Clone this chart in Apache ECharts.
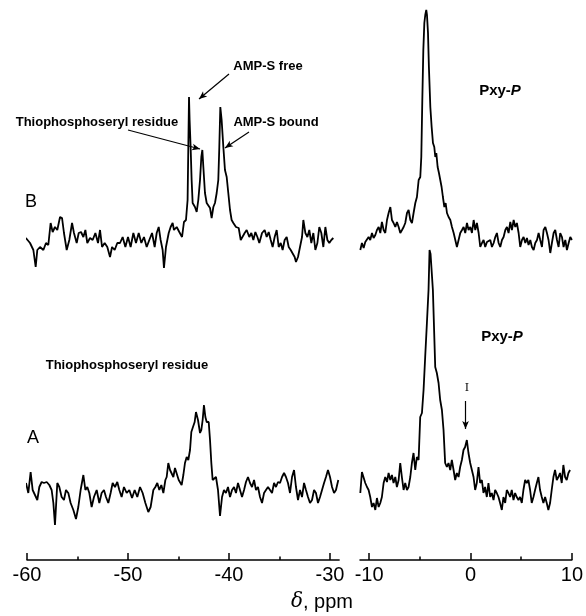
<!DOCTYPE html>
<html lang="en">
<head>
    <meta charset="UTF-8">
    <title>31P NMR spectra</title>
    <script src="https://cdn.jsdelivr.net/npm/echarts@6/dist/echarts.min.js"></script>
    <style>
        body { margin: 0; background: #fff; }
        #chart { width: 586px; height: 616px; }
    </style>
</head>
<body>
    <div id="chart"></div>
    <script>
        // spectrum B (top), left region: [ppm, intensity]
        const specBLeft = [
            [-60.30,3],[-60.03,1],[-59.70,-3],[-59.37,-10],[-59.14,-27],[-58.98,-10],[-58.71,-7],[-58.38,-10],
            [-58.12,-3],[-57.89,-5],[-57.66,17],[-57.46,8],[-57.23,13],[-57.00,10],[-56.73,23],[-56.53,22],
            [-56.34,7],[-56.07,-10],[-55.81,0],[-55.54,17],[-55.35,7],[-55.08,-3],[-54.88,7],[-54.65,8],
            [-54.42,3],[-54.22,10],[-54.03,-3],[-53.76,2],[-53.50,0],[-53.23,7],[-52.97,-3],[-52.77,10],
            [-52.57,-7],[-52.31,-3],[-52.05,-7],[-51.78,-17],[-51.58,-7],[-51.32,-10],[-51.06,-3],[-50.79,-3],
            [-50.53,3],[-50.26,-7],[-50.00,3],[-49.74,-7],[-49.47,7],[-49.21,-3],[-48.94,7],[-48.68,-3],
            [-48.42,3],[-48.15,-7],[-47.89,0],[-47.62,7],[-47.36,-7],[-47.16,7],[-46.96,13],[-46.77,0],
            [-46.57,-10],[-46.44,-28],[-46.24,-7],[-45.97,7],[-45.78,13],[-45.58,17],[-45.45,10],[-45.18,13],
            [-44.92,8],[-44.65,3],[-44.46,18],[-44.26,20],[-44.10,40],[-43.96,143],[-43.90,120],[-43.80,93],
            [-43.70,60],[-43.60,37],[-43.37,33],[-43.20,28],[-43.04,40],[-42.87,60],[-42.74,83],[-42.64,90],
            [-42.54,73],[-42.38,47],[-42.21,37],[-42.05,35],[-41.88,32],[-41.72,22],[-41.55,33],[-41.39,37],
            [-41.22,47],[-41.06,60],[-40.96,93],[-40.86,133],[-40.73,120],[-40.56,93],[-40.40,70],[-40.23,63],
            [-40.07,47],[-39.90,30],[-39.74,20],[-39.57,17],[-39.31,13],[-39.04,12],[-38.84,0],[-38.65,-2],
            [-38.45,7],[-38.25,10],[-37.99,3],[-37.79,7],[-37.59,0],[-37.39,8],[-37.19,3],[-37.00,-3],
            [-36.73,7],[-36.47,10],[-36.27,3],[-36.07,8],[-35.87,0],[-35.68,-7],[-35.48,3],[-35.28,10],
            [-35.08,-7],[-34.88,-3],[-34.69,-10],[-34.49,0],[-34.29,3],[-34.09,-7],[-33.89,-10],[-33.70,-8],
            [-33.50,-17],[-33.37,-22],[-33.17,-17],[-32.97,-7],[-32.77,3],[-32.64,20],[-32.44,7],[-32.24,3],
            [-32.05,10],[-31.85,-3],[-31.65,7],[-31.45,-10],[-31.25,-3],[-31.06,13],[-30.86,7],[-30.66,-7],
            [-30.46,13],[-30.26,0],[-30.07,-3],[-29.87,0],[-29.67,2]
        ];

        // spectrum B (top), right region
        const specBRight = [
            [-10.87,-10],[-10.71,-3],[-10.54,-8],[-10.38,-2],[-10.21,0],[-10.05,3],[-9.89,0],[-9.72,7],
            [-9.56,2],[-9.39,5],[-9.23,10],[-9.06,13],[-8.90,7],[-8.74,18],[-8.57,10],[-8.41,7],
            [-8.24,20],[-8.08,27],[-7.91,33],[-7.75,20],[-7.59,17],[-7.42,13],[-7.26,18],[-7.09,13],
            [-6.93,7],[-6.76,10],[-6.60,13],[-6.44,17],[-6.27,27],[-6.11,30],[-5.94,20],[-5.78,17],
            [-5.62,27],[-5.45,37],[-5.29,43],[-5.12,60],[-4.96,63],[-4.86,83],[-4.76,140],[-4.66,190],
            [-4.56,217],[-4.47,225],[-4.37,230],[-4.30,225],[-4.20,207],[-4.11,173],[-3.97,133],[-3.84,113],
            [-3.71,97],[-3.58,93],[-3.48,83],[-3.38,87],[-3.25,73],[-3.12,67],[-2.99,67],[-2.86,53],
            [-2.73,43],[-2.59,33],[-2.46,37],[-2.33,27],[-2.17,23],[-2.00,20],[-1.84,13],[-1.67,7],
            [-1.51,0],[-1.35,-7],[-1.18,-8],[-1.02,7],[-0.85,10],[-0.69,13],[-0.53,7],[-0.36,17],
            [-0.20,10],[-0.03,13],[0.13,7],[0.30,20],[0.46,10],[0.62,17],[0.79,7],[0.95,-7],
            [1.12,-3],[1.28,0],[1.44,-7],[1.61,-2],[1.77,-3],[1.94,0],[2.10,-7],[2.27,-3],
            [2.43,3],[2.59,7],[2.76,-3],[2.92,-7],[3.09,0],[3.25,3],[3.42,10],[3.58,13],
            [3.74,7],[3.91,18],[4.07,10],[4.24,20],[4.40,13],[4.56,17],[4.73,7],[4.89,-7],
            [5.06,0],[5.22,3],[5.39,-3],[5.55,2],[5.71,-5],[5.88,0],[6.04,-7],[6.21,-10],
            [6.37,-3],[6.54,0],[6.70,7],[6.86,0],[7.03,-7],[7.19,10],[7.36,13],[7.52,7],
            [7.68,0],[7.85,-13],[8.01,-3],[8.18,7],[8.34,10],[8.51,0],[8.67,-7],[8.83,7],
            [9.00,3],[9.16,-7],[9.33,0],[9.49,-10],[9.66,-3],[9.82,3],[9.98,0]
        ];

        // spectrum A (bottom), left region
        const specALeft = [
            [-60.10,7],[-59.87,-3],[-59.64,18],[-59.44,0],[-59.21,-5],[-58.98,-10],[-58.78,3],[-58.55,8],
            [-58.32,7],[-58.05,8],[-57.79,5],[-57.56,0],[-57.39,-13],[-57.23,-35],[-57.00,7],[-56.80,3],
            [-56.57,-7],[-56.34,-10],[-56.14,0],[-55.91,-3],[-55.68,-13],[-55.41,-20],[-55.15,-29],[-54.92,-17],
            [-54.69,0],[-54.42,15],[-54.22,0],[-54.03,3],[-53.83,-3],[-53.60,-17],[-53.37,-7],[-53.10,0],
            [-52.84,-13],[-52.61,-3],[-52.38,0],[-52.18,-7],[-51.95,-13],[-51.72,-3],[-51.52,7],[-51.29,3],
            [-51.06,8],[-50.86,0],[-50.63,-7],[-50.40,3],[-50.13,-3],[-49.87,0],[-49.60,-8],[-49.34,0],
            [-49.08,-7],[-48.81,3],[-48.55,-3],[-48.28,-13],[-47.99,-22],[-47.76,-17],[-47.49,0],[-47.29,3],
            [-47.10,7],[-46.90,0],[-46.70,5],[-46.50,-3],[-46.30,10],[-46.17,13],[-46.01,27],[-45.84,20],
            [-45.68,18],[-45.51,13],[-45.35,22],[-45.18,23],[-44.98,10],[-44.85,8],[-44.69,5],[-44.52,15],
            [-44.36,27],[-44.19,33],[-44.03,30],[-43.86,40],[-43.73,58],[-43.60,62],[-43.40,68],[-43.27,78],
            [-43.07,70],[-42.87,57],[-42.74,60],[-42.61,70],[-42.48,85],[-42.34,73],[-42.21,68],[-42.01,68],
            [-41.88,50],[-41.75,27],[-41.62,10],[-41.49,8],[-41.29,13],[-41.09,0],[-40.89,-26],[-40.69,-7],
            [-40.50,0],[-40.30,-3],[-40.10,3],[-39.90,-7],[-39.70,0],[-39.50,3],[-39.31,-3],[-39.11,7],
            [-38.91,0],[-38.71,-7],[-38.51,0],[-38.32,8],[-38.12,13],[-37.92,7],[-37.72,3],[-37.52,10],
            [-37.33,0],[-37.13,3],[-36.93,-7],[-36.73,-13],[-36.53,-3],[-36.34,0],[-36.14,3],[-35.94,0],
            [-35.74,-3],[-35.54,7],[-35.35,3],[-35.15,8],[-34.95,7],[-34.75,13],[-34.55,17],[-34.36,13],
            [-34.16,7],[-33.96,-3],[-33.76,13],[-33.56,20],[-33.37,3],[-33.17,-10],[-32.97,0],[-32.77,-7],
            [-32.57,7],[-32.38,0],[-32.18,-7],[-31.98,-13],[-31.78,-10],[-31.58,0],[-31.39,-3],[-31.19,-13],
            [-30.99,-7],[-30.79,0],[-30.59,7],[-30.40,13],[-30.20,20],[-30.00,13],[-29.80,3],[-29.60,-3],
            [-29.41,0],[-29.18,10]
        ];

        // spectrum A (bottom), right region
        const specARight = [
            [-10.87,-3],[-10.71,18],[-10.54,17],[-10.38,7],[-10.21,3],[-10.05,0],[-9.89,-7],[-9.72,-17],
            [-9.56,-13],[-9.39,-20],[-9.23,-8],[-9.06,-17],[-8.90,-13],[-8.74,-7],[-8.57,7],[-8.41,13],
            [-8.24,8],[-8.08,17],[-7.91,10],[-7.75,15],[-7.59,7],[-7.42,13],[-7.26,3],[-7.09,10],
            [-6.93,27],[-6.77,13],[-6.60,0],[-6.44,7],[-6.27,0],[-6.11,3],[-5.94,13],[-5.78,27],
            [-5.62,37],[-5.45,20],[-5.29,33],[-5.12,30],[-4.96,73],[-4.79,77],[-4.63,100],[-4.47,133],
            [-4.30,167],[-4.14,200],[-4.04,240],[-3.94,236],[-3.71,200],[-3.48,123],[-3.32,117],[-3.15,107],
            [-2.99,90],[-2.82,80],[-2.66,60],[-2.50,27],[-2.33,23],[-2.17,27],[-2.00,20],[-1.84,30],
            [-1.67,20],[-1.51,10],[-1.35,17],[-1.18,13],[-1.02,23],[-0.85,30],[-0.69,40],[-0.53,43],
            [-0.36,50],[-0.20,37],[-0.03,27],[0.13,27],[0.30,13],[0.46,0],[0.62,7],[0.79,23],
            [0.95,7],[1.12,10],[1.28,-3],[1.44,3],[1.61,-7],[1.77,7],[1.94,-7],[2.10,-3],
            [2.27,-10],[2.43,0],[2.59,-3],[2.76,-7],[2.92,-13],[3.09,-20],[3.25,-7],[3.42,-13],
            [3.58,0],[3.74,-3],[3.91,-7],[4.07,0],[4.24,-10],[4.40,-3],[4.56,-7],[4.73,-10],
            [4.89,-7],[5.06,-13],[5.22,0],[5.39,10],[5.55,7],[5.71,10],[5.88,0],[6.04,-13],
            [6.21,-7],[6.37,0],[6.54,7],[6.70,13],[6.86,0],[7.03,-7],[7.19,-13],[7.36,-7],
            [7.52,-13],[7.68,-20],[7.85,-13],[8.01,0],[8.18,13],[8.34,20],[8.51,10],[8.67,13],
            [8.83,17],[9.00,7],[9.16,25],[9.33,13],[9.49,10],[9.66,17],[9.82,20]
        ];

        // axis ticks
        const majorTicksLeft = [-60, -50, -40, -30];
        const minorTicksLeft = [-55, -45, -35];
        const majorTicksRight = [-10, 0, 10];
        const minorTicksRight = [-5, 5];

        const FONT = 'Liberation Sans';
        const leftRange = { min: -60, max: -29.1 };
        const rightRange = { min: -10.9, max: 10 };

        const chart = echarts.init(document.getElementById('chart'));

        function hiddenX(grid, range) {
            return { type: 'value', gridIndex: grid, min: range.min, max: range.max, show: false };
        }
        function mainX(grid, range, ticks) {
            return {
                type: 'value', gridIndex: grid, min: range.min, max: range.max, position: 'bottom',
                splitLine: { show: false },
                axisLine: { onZero: false, lineStyle: { color: '#000', width: 1.5 } },
                axisTick: { inside: true, length: 7, customValues: ticks, lineStyle: { color: '#000', width: 1.5 } },
                axisLabel: { customValues: ticks, color: '#000', fontSize: 20, fontFamily: FONT, margin: 5 }
            };
        }
        function minorX(grid, range, ticks) {
            return {
                type: 'value', gridIndex: grid, min: range.min, max: range.max, position: 'bottom',
                splitLine: { show: false },
                axisLine: { show: false, onZero: false },
                axisTick: { inside: true, length: 3.5, customValues: ticks, lineStyle: { color: '#000', width: 1.5 } },
                axisLabel: { show: false }
            };
        }
        function yAx(grid, min, max) {
            return { type: 'value', gridIndex: grid, min: min, max: max, show: false };
        }
        function arrow(from, to) {
            return [{ coord: from }, { coord: to }];
        }
        function spectrum(data, x, y, arrows) {
            const s = {
                type: 'line', xAxisIndex: x, yAxisIndex: y, data: data,
                showSymbol: false, silent: true,
                lineStyle: { color: '#000', width: 1.8 }
            };
            if (arrows) {
                s.markLine = {
                    silent: true, animation: false,
                    symbol: ['none', 'arrow'], symbolSize: [5, 8],
                    label: { show: false },
                    lineStyle: { color: '#000', width: 1.2, type: 'solid' },
                    data: arrows
                };
            }
            return s;
        }
        function label(x, y, text, font, rich) {
            const st = { text: text, fill: '#000', font: font, align: 'center', verticalAlign: 'middle',
                textAlign: 'center', textVerticalAlign: 'middle' };
            if (rich) st.rich = rich;
            return { type: 'text', x: x, y: y, silent: true, style: st };
        }

        const boldFont = 'bold 13px ' + FONT;
        const pxyRich = {
            n: { font: 'bold 15px ' + FONT, fill: '#000' },
            i: { font: 'italic bold 15px ' + FONT, fill: '#000' }
        };

        const option = {
            animation: false,
            backgroundColor: '#fff',
            grid: [
                { left: 27, top: 0, width: 312.1, height: 280 },
                { left: 360, top: 0, width: 212.1, height: 280 },
                { left: 27, top: 250, width: 312.1, height: 310 },
                { left: 360, top: 250, width: 212.1, height: 310 }
            ],
            xAxis: [
                hiddenX(0, leftRange),
                hiddenX(1, rightRange),
                mainX(2, leftRange, majorTicksLeft),
                mainX(3, rightRange, majorTicksRight),
                minorX(2, leftRange, minorTicksLeft),
                minorX(3, rightRange, minorTicksRight)
            ],
            yAxis: [
                yAx(0, -40, 240),
                yAx(1, -40, 240),
                yAx(2, -70, 240),
                yAx(3, -70, 240)
            ],
            series: [
                spectrum(specBLeft, 0, 0, [
                    arrow([-40.0, 166], [-42.97, 141]),
                    arrow([-50.0, 110], [-42.87, 91]),
                    arrow([-38.02, 108], [-40.40, 92])
                ]),
                spectrum(specBRight, 1, 1),
                spectrum(specALeft, 2, 2),
                spectrum(specARight, 3, 3, [
                    arrow([-0.49, 89], [-0.49, 61])
                ])
            ],
            graphic: [
                label(268, 66, 'AMP-S free', boldFont),
                label(97, 122, 'Thiophosphoseryl residue', boldFont),
                label(276, 122, 'AMP-S bound', boldFont),
                label(31, 202, 'B', '18px ' + FONT),
                label(500, 91, '{n|Pxy-}{i|P}', 'bold 15px ' + FONT, pxyRich),
                label(127, 365, 'Thiophosphoseryl residue', boldFont),
                label(33, 438, 'A', '18px ' + FONT),
                label(502, 337, '{n|Pxy-}{i|P}', 'bold 15px ' + FONT, pxyRich),
                label(467, 388, 'I', '11px DejaVu Serif'),
                label(322, 602, '{d|δ}{n|, ppm}', '20px ' + FONT, {
                    d: { font: 'italic 20px DejaVu Serif', fill: '#000' },
                    n: { font: '20px ' + FONT, fill: '#000' }
                })
            ]
        };
        chart.setOption(option);
    </script>
</body>
</html>
